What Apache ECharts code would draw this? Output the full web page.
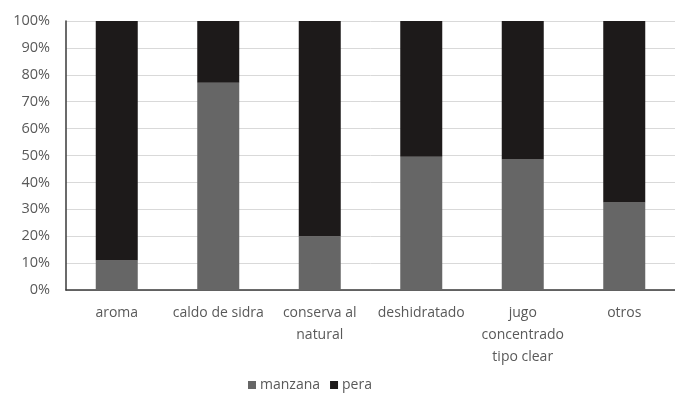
<!DOCTYPE html>
<html><head><meta charset="utf-8">
<script src="https://cdn.jsdelivr.net/npm/echarts@6/dist/echarts.min.js"></script>
<style>html,body{margin:0;padding:0;background:#fff}#c{width:675px;height:400px}</style>
</head><body><div id="c"></div>
<script>
const categories = ["aroma", "caldo de sidra", "conserva al natural", "deshidratado", "jugo concentrado tipo clear", "otros"];
const tickLabels = ["aroma", "caldo de sidra", "conserva al\nnatural", "deshidratado", "jugo\nconcentrado\ntipo clear", "otros"];
const manzana = [11, 77, 20, 49.5, 48.5, 32.5];
const pera = [89, 23, 80, 50.5, 51.5, 67.5];
const yTicks = [0, 10, 20, 30, 40, 50, 60, 70, 80, 90, 100];

const font = "Open Sans";
const chart = echarts.init(document.getElementById('c'), null, {renderer: 'canvas'});
chart.setOption({
  animation: false,
  backgroundColor: '#ffffff',
  grid: {left: 66, top: 21, width: 618, height: 269, containLabel: false},
  legend: {
    top: 373, left: 243, itemWidth: 8, itemHeight: 8, itemGap: 10,
    icon: 'rect',
    textStyle: {fontFamily: font, fontSize: 14, color: '#595959', padding: [0, 0, 0, -1]},
    data: ['manzana', 'pera']
  },
  xAxis: {
    type: 'category', data: categories,
    axisLine: {lineStyle: {color: '#3a3a3a', width: 1.5}},
    axisTick: {show: false},
    axisLabel: {
      interval: 0, margin: 12, fontFamily: font, fontSize: 14, color: '#595959', lineHeight: 22,
      formatter: (v, i) => tickLabels[i]
    }
  },
  yAxis: {
    type: 'value', min: 0, max: 100, interval: 10,
    axisLine: {show: true, lineStyle: {color: '#3a3a3a', width: 1.5}},
    axisTick: {show: false},
    splitLine: {lineStyle: {color: '#d9d9d9', width: 1}},
    axisLabel: {
      margin: 16, fontFamily: font, fontSize: 14.5, color: '#595959',
      formatter: v => yTicks.includes(v) ? v + '%' : ''
    }
  },
  series: [
    {name: 'manzana', type: 'bar', stack: 't', data: manzana, barWidth: 42,
     itemStyle: {color: '#666666'}},
    {name: 'pera', type: 'bar', stack: 't', data: pera, barWidth: 42,
     itemStyle: {color: '#1d1a1a'}}
  ]
});
</script></body></html>
